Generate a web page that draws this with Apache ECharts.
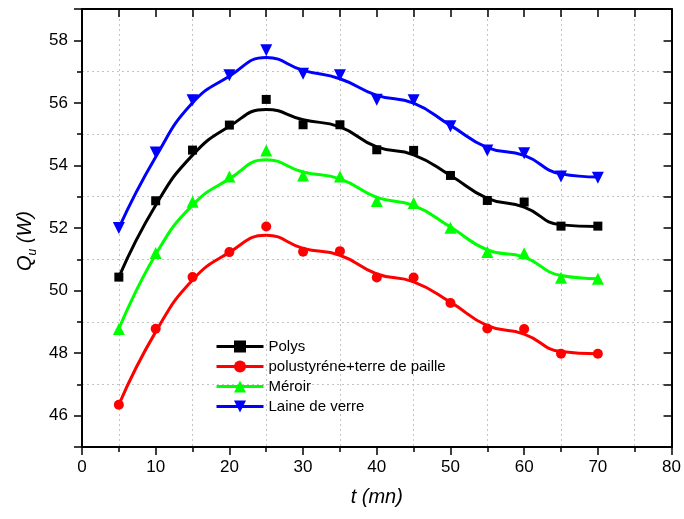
<!DOCTYPE html>
<html>
<head>
<meta charset="utf-8">
<title>Qu</title>
<script src="https://cdn.jsdelivr.net/npm/echarts@6/dist/echarts.min.js"></script>
<style>
  html, body { margin: 0; padding: 0; background: #fff; }
  #myChart { width: 684px; height: 519px; }
</style>
</head>
<body>
<div id="myChart"></div>
<script>
// temps (mn)
var times = [5, 10, 15, 20, 25, 30, 35, 40, 45, 50, 55, 60, 65, 70];
var names = ["Polys", "polustyréne+terre de paille", "Méroir", "Laine de verre"];
var colors = ["#000000", "#ff0000", "#00ff00", "#0000ff"];

// points mesures
var polys = [50.43, 52.87, 54.49, 55.29, 56.11, 55.30, 55.30, 54.50, 54.48, 53.68, 52.88, 52.83, 52.06, 52.06];
var polus = [46.35, 48.78, 50.43, 51.23, 52.05, 51.24, 51.26, 50.42, 50.42, 49.60, 48.79, 48.77, 47.98, 47.98];
var meroir = [48.77, 51.20, 52.84, 53.65, 54.48, 53.68, 53.65, 52.86, 52.80, 52.01, 51.23, 51.19, 50.41, 50.38];
var laine = [52.00, 54.41, 56.08, 56.88, 57.68, 56.93, 56.88, 56.10, 56.08, 55.25, 54.48, 54.39, 53.65, 53.61];

// courbes lissees
var polysFit = [50.43, 52.73, 54.33, 55.25, 55.79, 55.46, 55.23, 54.59, 54.34, 53.68, 52.95, 52.67, 52.10, 52.05];
var polusFit = [46.35, 48.68, 50.34, 51.22, 51.77, 51.35, 51.13, 50.53, 50.28, 49.63, 48.88, 48.61, 48.05, 47.98];
var meroirFit = [48.77, 51.15, 52.73, 53.57, 54.18, 53.79, 53.57, 52.98, 52.72, 52.03, 51.30, 51.07, 50.48, 50.38];
var laineFit = [52.00, 54.27, 56.00, 56.85, 57.45, 57.04, 56.77, 56.24, 55.99, 55.28, 54.57, 54.32, 53.73, 53.63];

var points = [polys, polus, meroir, laine];
var fits = [polysFit, polusFit, meroirFit, laineFit];
var symbols = ["rect", "circle", "triangle", "triangle"];
var symbolSizes = [9, 10, 12, 12];
var rotates = [0, 0, 0, 180];

function pairs(arr) {
  return times.map(function (t, i) { return [t, arr[i]]; });
}

var font = "Liberation Sans, Arial, sans-serif";
var gridColor = "#c4c4c4";

var series = [];
// courbes
for (var i = 0; i < 4; i++) {
  series.push({
    name: names[i],
    type: "line",
    data: pairs(fits[i]),
    smooth: 0.5,
    showSymbol: false,
    symbol: symbols[i],
    symbolSize: symbolSizes[i],
    symbolRotate: rotates[i],
    lineStyle: { color: colors[i], width: 3 },
    itemStyle: { color: colors[i] },
    z: 3
  });
}
// marqueurs
for (var j = 0; j < 4; j++) {
  series.push({
    name: names[j],
    type: "scatter",
    data: pairs(points[j]),
    symbol: symbols[j],
    symbolSize: symbolSizes[j],
    symbolRotate: rotates[j],
    itemStyle: { color: colors[j], opacity: 1 },
    z: 4
  });
}

var myChart = echarts.init(document.getElementById("myChart"));
var option = {
  animation: false,
  backgroundColor: "#ffffff",
  grid: { left: 82, right: 12, top: 9, bottom: 72 },
  legend: {
    data: names,
    orient: "vertical",
    left: 210,
    top: 334,
    itemWidth: 47,
    itemHeight: 15,
    itemGap: 5,
    lineStyle: { width: 3 },
    textStyle: { fontFamily: font, fontSize: 15, color: "#000" }
  },
  xAxis: [
    {
      type: "value",
      position: "bottom",
      min: 0, max: 80, interval: 10,
      name: "t (mn)",
      nameLocation: "middle",
      nameGap: 40,
      nameTextStyle: { fontFamily: font, fontSize: 20, fontStyle: "italic", color: "#000" },
      axisLine: { onZero: false, lineStyle: { color: "#000", width: 2 } },
      axisTick: { inside: false, length: 8, lineStyle: { width: 1.5, color: "#000" } },
      minorTick: { show: true, splitNumber: 2, length: 5, lineStyle: { width: 1.5, color: "#000" } },
      axisLabel: { margin: 12, fontFamily: font, fontSize: 17, color: "#000" },
      splitLine: { show: false },
      minorSplitLine: { show: true, lineStyle: { color: gridColor, type: [2, 3], width: 1 } }
    },
    {
      type: "value",
      position: "top",
      min: 0, max: 80, interval: 10,
      axisLine: { onZero: false, lineStyle: { color: "#000", width: 2 } },
      axisTick: { inside: true, length: 8, lineStyle: { width: 1.5, color: "#000" } },
      minorTick: { show: true, splitNumber: 2, length: 8, lineStyle: { width: 1.5, color: "#000" } },
      axisLabel: { show: false },
      splitLine: { show: false }
    }
  ],
  yAxis: [
    {
      type: "value",
      position: "left",
      min: 45, max: 59, splitNumber: 7,
      name: "{q|Q}{s|u}{q| (W)}",
      nameLocation: "middle",
      nameGap: 37,
      nameTextStyle: {
        color: "#000",
        padding: [0, 26, 0, 0],
        rich: {
          q: { fontFamily: font, fontSize: 20, fontStyle: "italic", color: "#000" },
          s: { fontFamily: font, fontSize: 12, fontStyle: "italic", color: "#000", verticalAlign: "bottom", padding: [13, 0, 0, 0] }
        }
      },
      axisLine: { onZero: false, lineStyle: { color: "#000", width: 2 } },
      axisTick: { inside: false, length: 8, lineStyle: { width: 1.5, color: "#000" } },
      minorTick: { show: true, splitNumber: 2, length: 5, lineStyle: { width: 1.5, color: "#000" } },
      axisLabel: { margin: 14, showMinLabel: false, showMaxLabel: false, fontFamily: font, fontSize: 17, color: "#000" },
      splitLine: { show: false },
      minorSplitLine: { show: true, lineStyle: { color: gridColor, type: [2, 3], width: 1 } }
    },
    {
      type: "value",
      position: "right",
      min: 45, max: 59, interval: 1,
      axisLine: { onZero: false, lineStyle: { color: "#000", width: 2 } },
      axisTick: { inside: true, length: 8, lineStyle: { width: 1.5, color: "#000" } },
      axisLabel: { show: false },
      splitLine: { show: false }
    }
  ],
  series: series
};
myChart.setOption(option);
</script>
</body>
</html>
